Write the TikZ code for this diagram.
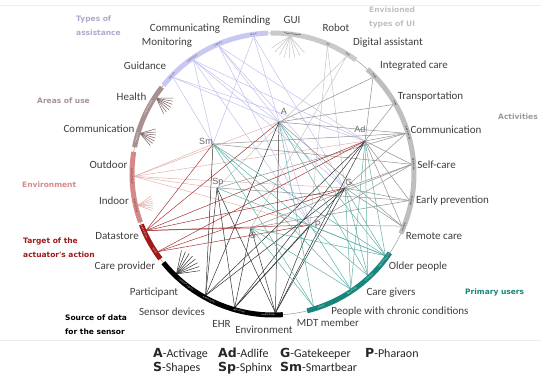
\documentclass[tikz,border=0pt]{standalone}
\usepackage{fontspec}
\setmainfont{Carlito}
\newfontfamily\hubfont{Liberation Sans}
\newfontfamily\headfont{DejaVu Sans}
\usetikzlibrary{calc}
\definecolor{lavband}{RGB}{200,200,242}
\definecolor{lavline}{RGB}{192,192,236}
\definecolor{areaband}{RGB}{168,144,144}
\definecolor{arealine}{RGB}{120,92,92}
\definecolor{envband}{RGB}{212,136,136}
\definecolor{envline}{RGB}{230,176,176}
\definecolor{tgtband}{RGB}{160,24,24}
\definecolor{tgtline}{RGB}{166,52,52}
\definecolor{srcline}{RGB}{50,50,50}
\definecolor{usrband}{RGB}{22,134,124}
\definecolor{usrline}{RGB}{96,176,168}
\definecolor{actband}{RGB}{190,190,190}
\definecolor{actline}{RGB}{145,145,145}
\definecolor{uiband}{RGB}{202,202,202}
\definecolor{uiline}{RGB}{196,196,196}
\definecolor{hubgray}{RGB}{105,105,105}
\definecolor{txtgray}{RGB}{62,62,62}
\newcommand{\legkey}[1]{{\headfont\bfseries\fontsize{12.5}{14}\selectfont #1}}

\tikzset{
  band/.style={line width=5pt},
  link/.style={line width=0.5pt},
  fan/.style={line width=0.5pt},
  catlabel/.style={font=\fontsize{11}{13}\selectfont, text=txtgray, inner sep=0pt},
  hublabel/.style={font=\hubfont\fontsize{9}{10}\selectfont, text=hubgray, inner sep=0pt},
  heading/.style={font=\headfont\bfseries\fontsize{7.5}{14}\selectfont, align=left, anchor=west, inner sep=0pt},
  tagtxt/.style={font=\fontsize{2.3}{3}\selectfont, inner sep=0pt},
  legitem/.style={font=\fontsize{12}{14}\selectfont, text=black!85, anchor=base west, inner sep=0pt}
}

\begin{document}
\begin{tikzpicture}[x=1pt, y=1pt]
  \useasboundingbox (-273,-205) rectangle (277,174);

  % faint rules above and below
  \draw[black!7] (-273,169) -- (268,169);
  \draw[black!7] (-273,-166) -- (268,-166);

  % project hubs
  \coordinate (hA) at (6,52);
  \coordinate (hAd) at (92,33);
  \coordinate (hG) at (72,-14);
  \coordinate (hP) at (37,-51);
  \coordinate (hS) at (-22,-54);
  \coordinate (hSp) at (-56,-14);
  \coordinate (hSm) at (-60,30);

  % points on the ring
  \foreach \c/\a in {remind/98, commg/113, monit/125, guid/136, health/147, commu/163,
      outdoor/181, indoor/193, datastore/204, careprov/214, particip/226, sensor/241,
      ehr/254, envir/271, mdt/287, chronic/304, carers/313, older/324, remote/338,
      earlyprev/349, selfcare/4, commact/17, transport/30, integ/44, digital/58,
      robot/67, gui/83}
    \coordinate (\c) at (\a:139);

  % Types of assistance
  \foreach \c/\ps in {remind/{Sm,G,P}, commg/{A,Ad,G,P}, monit/{A,Ad,G,P,Sm}, guid/{A,Ad,Sm}}
    \foreach \p in \ps \draw[link, lavline] (\c) -- (h\p);

  % Envisioned types of UI
  \foreach \c/\ps in {robot/{G,P}, digital/{S,Sp}}
    \foreach \p in \ps \draw[link, uiline] (\c) -- (h\p);
  \foreach \k in {0,...,7} \draw[fan, uiline] (gui) -- ++({213+\k*14}:22);

  % Activities
  \foreach \c/\ps in {integ/{A,Ad}, transport/{A,Ad}, commact/{A,Ad,G,Sm,Sp},
      selfcare/{Ad,G,P,S,Sm}, earlyprev/{Ad,G,S,Sp}, remote/{A,Ad,G,P}}
    \foreach \p in \ps \draw[link, actline] (\c) -- (h\p);

  % Areas of use (fans only)
  \foreach \k in {0,...,6} \draw[fan, arealine] (health) -- ++({295+\k*11}:17);
  \foreach \k in {0,...,6} \draw[fan, arealine] (commu) -- ++({310+\k*11}:16);

  % Environment
  \foreach \p in {Sm,A,Sp,Ad,G,P} \draw[link, envline] (outdoor) -- (h\p);
  \foreach \k in {0,...,6} \draw[fan, envline] (indoor) -- ++({-20+\k*9}:16);

  % Target of the actuator's action
  \foreach \c/\ps in {datastore/{Sm,A,Ad,G,P,S}, careprov/{Ad,G,P}}
    \foreach \p in \ps \draw[link, tgtline] (\c) -- (h\p);

  % Source of data for the sensor
  \foreach \c/\ps in {sensor/{Sm,Sp,A,Ad,G}, ehr/{Sp,S,Ad,G,P}, envir/{A,Sp,S,Ad,G,P}}
    \foreach \p in \ps \draw[link, srcline] (\c) -- (h\p);
  \foreach \k in {0,...,7} \draw[fan, srcline] (particip) -- ++({8+\k*10}:24);

  % Primary users
  \foreach \c/\ps in {mdt/{A,S,Sm}, chronic/{Ad,G,P,S,Sm}, carers/{A,Ad,G,Sm},
      older/{A,Ad,G,P,S,Sp,Sm}}
    \foreach \p in \ps \draw[link, usrline] (\c) -- (h\p);

  % ring and coloured bands
  \draw[black!35, line width=0.6pt] (0,0) circle (141);
  \draw[band, lavband] (92:141) arc[start angle=92, end angle=141, radius=141];
  \draw[band, areaband] (142:141) arc[start angle=142, end angle=169, radius=141];
  \draw[band, envband] (171:141) arc[start angle=171, end angle=200, radius=141];
  \draw[band, tgtband] (201:141) arc[start angle=201, end angle=217, radius=141];
  \draw[band, black] (219:141) arc[start angle=219, end angle=274, radius=141];
  \draw[band, usrband] (284:141) arc[start angle=284, end angle=326, radius=141];
  \draw[band, actband] (-25:141) arc[start angle=-25, end angle=48, radius=141];
  \draw[band, uiband] (54:141) arc[start angle=54, end angle=91, radius=141];

  % small tags on the bands
  \foreach \a/\t/\col in {98/Sm-G-P/lavline!30!black, 113/A-Ad-G-P/lavline!30!black,
      125/A-Ad-G-P-Sm/lavline!30!black, 136/A-Ad-Sm/lavline!30!black,
      152/A-Ad-G-P-S-Sp-Sm/white, 165/A-Ad-G-P-S/white,
      181/A-Ad-G-P-Sp-Sm/envband!40!black, 193/A-Ad-G-P-S-Sp/envband!40!black,
      204/A-Ad-G-P-S-Sm/white, 213/Ad-G-P/white,
      232/A-Ad-G-P-S-Sp-Sm/white, 243/A-Ad-G-Sp-Sm/white, 256/Ad-G-P-S-Sp/white, 268/A-Ad-G-P-S-Sp/white,
      290/A-S-Sm/white, 304/Ad-G-P-S-Sm/white, 313/A-Ad-G-Sm/white, 322/A-Ad-G-P-S-Sp-Sm/white,
      338/A-Ad-G-P/black, 349/Ad-G-S-Sp/black, 4/Ad-G-P-S-Sm/black, 17/A-Ad-G-Sm-Sp/black,
      30/A-Ad/black, 44/A-Ad/black, 58/S-Sp/black, 67/G-P/black, 82/A-Ad-G-P-S-Sp-Sm/black}
    {\pgfmathsetmacro\rot{\a>180 ? \a+90 : \a-90}
     \node[tagtxt, text=\col, rotate=\rot] at (\a:141) {\t};}

  % category labels
  \node[catlabel] (lremind) at (-26.5,153) {Reminding};
  \node[catlabel] (lcommg) at (-88,145) {Communicating};
  \node[catlabel] (lmonit) at (-106,131) {Monitoring};
  \node[catlabel] (lguid) at (-128,108) {Guidance};
  \node[catlabel] (lhealth) at (-141.5,77) {Health};
  \node[catlabel] (lcommu) at (-174,45) {Communication};
  \node[catlabel] (loutdoor) at (-164.5,9) {Outdoor};
  \node[catlabel] (lindoor) at (-159,-27) {Indoor};
  \node[catlabel] (ldatastore) at (-156,-62) {Datastore};
  \node[catlabel] (lcareprov) at (-148,-93) {Care provider};
  \node[catlabel] (lparticip) at (-119,-119) {Participant};
  \node[catlabel] (lsensor) at (-101,-138) {Sensor devices};
  \node[catlabel] (lehr) at (-51.5,-150) {EHR};
  \node[catlabel] (lenvir) at (-9,-156) {Environment};
  \node[catlabel] (lmdt) at (55,-149) {MDT member};
  \node[catlabel] (lchronic) at (127,-138) {People with chronic conditions};
  \node[catlabel] (lcarers) at (118,-119) {Care givers};
  \node[catlabel] (lolder) at (145,-93) {Older people};
  \node[catlabel] (lremote) at (161,-62) {Remote care};
  \node[catlabel] (learlyprev) at (179.5,-27) {Early prevention};
  \node[catlabel] (lselfcare) at (163.5,9) {Self-care};
  \node[catlabel] (lcommact) at (173,44) {Communication};
  \node[catlabel] (ltransport) at (157.5,77) {Transportation};
  \node[catlabel] (linteg) at (141,108) {Integrated care};
  \node[catlabel] (ldigital) at (115,131) {Digital assistant};
  \node[catlabel] (lrobot) at (63,146) {Robot};
  \node[catlabel] (lgui) at (19,154) {GUI};

  % group headings
  \node[heading, text=lavband!85!black] (tassist) at (-197,148) {Types of\\assistance};
  \node[heading, text=areaband] (tareas) at (-236,73) {Areas of use};
  \node[heading, text=envband] (tenv) at (-251,-11) {Environment};
  \node[heading, text=tgtband] (ttarget) at (-250,-73.5) {Target of the\\actuator's action};
  \node[heading, text=black] (tsource) at (-208,-150.5) {Source of data\\for the sensor};
  \node[heading, text=usrband] (tusers) at (192,-118) {Primary users};
  \node[heading, text=black!40] (tactiv) at (225,57) {Activities};
  \node[heading, text=black!25] (tui) at (96,157) {Envisioned\\types of UI};

  % hub labels
  \node[hublabel] (lA) at (11,63) {A};
  \node[hublabel] (lAd) at (87,45) {Ad};
  \node[hublabel] (lG) at (76,-8) {G};
  \node[hublabel] (lP) at (45,-50) {P};
  \node[hublabel] (lS) at (-20,-61) {S};
  \node[hublabel] (lSp) at (-55,-8) {Sp};
  \node[hublabel] (lSm) at (-67,33) {Sm};

  % legend
  \node[legitem] (legA) at (-120,-184) {\legkey{A}-Activage};
  \node[legitem] (legAd) at (-55,-184) {\legkey{Ad}-Adlife};
  \node[legitem] (legG) at (7,-184) {\legkey{G}-Gatekeeper};
  \node[legitem] (legP) at (92,-184) {\legkey{P}-Pharaon};
  \node[legitem] (legS) at (-120,-198) {\legkey{S}-Shapes};
  \node[legitem] (legSp) at (-55,-198) {\legkey{Sp}-Sphinx};
  \node[legitem] (legSm) at (7,-198) {\legkey{Sm}-Smartbear};
\end{tikzpicture}
\end{document}
